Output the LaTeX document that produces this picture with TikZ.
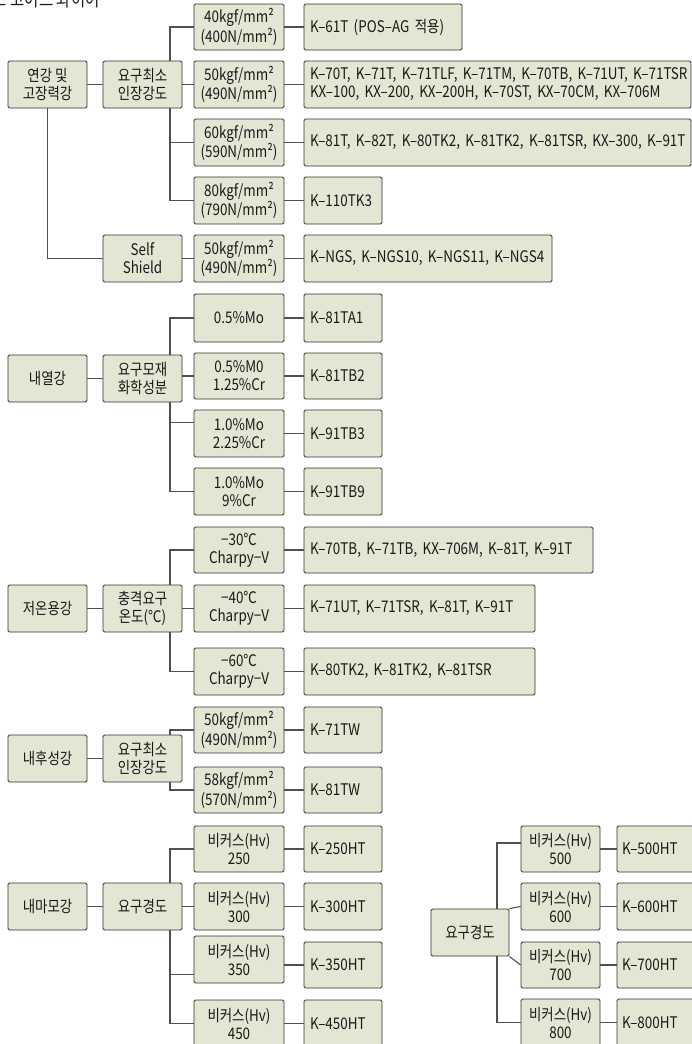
\documentclass[tikz,border=0pt]{standalone}
\usepackage{fontspec}
\setmainfont[FakeStretch=0.84]{Noto Sans CJK KR}
\definecolor{boxc}{RGB}{227,230,211}
\definecolor{bordc}{RGB}{50,50,50}
\definecolor{linec}{RGB}{80,80,80}
\definecolor{txtc}{RGB}{25,25,25}
\newcommand\fs{\fontsize{16}{18}\selectfont}
\tikzset{
  bx/.style={draw=bordc, fill=boxc, rounded corners=1.5pt, line width=0.8pt, inner sep=0pt, align=center, font=\fs, text=txtc},
  lt/.style={align=left, text width=#1pt},
  ln/.style={draw=linec, line width=1.1pt},
}
\newcommand\mkbox[7][]{\node[bx,minimum width={#5-#3},minimum height={#6-#4},#1] (#2) at ({(#3+#5)/2},{(#4+#6)/2}) {#7};}
\begin{document}
\begin{tikzpicture}[x=1pt,y=-1pt]
\useasboundingbox (0,0) rectangle (692,1044);
\coordinate (j1) at (170,0);
\coordinate (j2) at (497,0);
\node[anchor=base west, font=\fontsize{18.5}{18.5}\selectfont, text=txtc, inner sep=0pt] (title) at (-36,6) {플럭스 코어드 와이어};

% group 1
\mkbox{a1}{8}{61}{87}{108}{연강 및\\고장력강}
\mkbox{a2}{103}{61}{182}{108}{요구최소\\인장강도}
\mkbox{a3}{103}{235}{182}{282}{Self\\Shield}
\mkbox{b1}{194}{4}{284}{50}{40kgf/mm²\\(400N/mm²)}
\mkbox{b2}{194}{61}{284}{108}{50kgf/mm²\\(490N/mm²)}
\mkbox{b3}{194}{119}{284}{166}{60kgf/mm²\\(590N/mm²)}
\mkbox{b4}{194}{177}{284}{224}{80kgf/mm²\\(790N/mm²)}
\mkbox{b5}{194}{235}{284}{282}{50kgf/mm²\\(490N/mm²)}
\mkbox[lt=146]{c1}{304}{4}{462}{50}{\mbox{K–61T (POS–AG 적용)}}
\mkbox[lt=375]{c2}{304}{61}{691}{108}{\mbox{K–70T, K–71T, K–71TLF, K–71TM, K–70TB, K–71UT, K–71TSR}\\\mbox{KX–100, KX–200, KX–200H, K–70ST, KX–70CM, KX–706M}}
\mkbox[lt=375]{c3}{304}{119}{691}{166}{\mbox{K–81T, K–82T, K–80TK2, K–81TK2, K–81TSR, KX–300, K–91T}}
\mkbox[lt=66]{c4}{304}{177}{382}{224}{\mbox{K–110TK3}}
\mkbox[lt=236]{c5}{304}{235}{552}{282}{\mbox{K–NGS, K–NGS10, K–NGS11, K–NGS4}}
\draw[ln] (a1) -- (a2);
\draw[ln] (a2.north -| j1) |- (b1.west);
\draw[ln] (a2) -- (b2);
\draw[ln] (j1 |- b3.west) -- (b3.west);
\draw[ln] (a2.south -| j1) |- (b4.west);
\draw[ln] (a1.south) |- (a3.west);
\draw[ln] (a3) -- (b5);
\foreach \i in {1,...,5} {\draw[ln] (b\i) -- (c\i);}

% group 2
\mkbox{d1}{8}{355}{87}{402}{내열강}
\mkbox{d2}{103}{355}{182}{402}{요구모재\\화학성분}
\mkbox{e1}{194}{294}{284}{342}{0.5\%Mo}
\mkbox{e2}{194}{353}{284}{399}{0.5\%M0\\1.25\%Cr}
\mkbox{e3}{194}{410}{284}{457}{1.0\%Mo\\2.25\%Cr}
\mkbox{e4}{194}{468}{284}{515}{1.0\%Mo\\9\%Cr}
\mkbox[lt=66]{f1}{304}{294}{382}{342}{\mbox{K–81TA1}}
\mkbox[lt=66]{f2}{304}{353}{382}{399}{\mbox{K–81TB2}}
\mkbox[lt=66]{f3}{304}{410}{382}{457}{\mbox{K–91TB3}}
\mkbox[lt=66]{f4}{304}{468}{382}{515}{\mbox{K–91TB9}}
\draw[ln] (d1) -- (d2);
\draw[ln] (d2.north -| j1) |- (e1.west);
\draw[ln] (d2.east |- e2.west) -- (e2.west);
\draw[ln] ([yshift=11pt]e3.west -| j1) -- ([yshift=11pt]e3.west);
\draw[ln] (d2.south -| j1) |- (e4.west);
\foreach \i in {1,...,4} {\draw[ln] (e\i) -- (f\i);}

% group 3
\mkbox{g1}{8}{585}{87}{632}{저온용강}
\mkbox{g2}{103}{585}{182}{632}{충격요구\\온도(℃)}
\mkbox{h1}{194}{527}{284}{573}{−30℃\\Charpy−V}
\mkbox{h2}{194}{585}{284}{632}{−40℃\\Charpy−V}
\mkbox{h3}{194}{648}{284}{695}{−60℃\\Charpy−V}
\mkbox[lt=277]{i1}{304}{527}{593}{573}{\mbox{K–70TB, K–71TB, KX–706M, K–81T, K–91T}}
\mkbox[lt=219]{i2}{304}{585}{535}{632}{\mbox{K–71UT, K–71TSR, K–81T, K–91T}}
\mkbox[lt=219]{i3}{304}{648}{535}{695}{\mbox{K–80TK2, K–81TK2, K–81TSR}}
\draw[ln] (g1) -- (g2);
\draw[ln] (g2.north -| j1) |- (h1.west);
\draw[ln] (g2) -- (h2);
\draw[ln] (g2.south -| j1) |- (h3.west);
\foreach \i in {1,...,3} {\draw[ln] (h\i) -- (i\i);}

% group 4
\mkbox{k1}{8}{735}{87}{782}{내후성강}
\mkbox{k2}{103}{735}{182}{782}{요구최소\\인장강도}
\mkbox{l1}{194}{707}{284}{753}{50kgf/mm²\\(490N/mm²)}
\mkbox{l2}{194}{767}{284}{813}{58kgf/mm²\\(570N/mm²)}
\mkbox[lt=66]{m1}{304}{707}{382}{753}{\mbox{K–71TW}}
\mkbox[lt=66]{m2}{304}{767}{382}{813}{\mbox{K–81TW}}
\draw[ln] (k1) -- (k2);
\draw[ln] (k2.north -| j1) |- (l1.west);
\draw[ln] (k2.south -| j1) |- (l2.west);
\foreach \i in {1,2} {\draw[ln] (l\i) -- (m\i);}

% group 5
\mkbox{n1}{8}{883}{87}{930}{내마모강}
\mkbox{n2}{103}{883}{182}{930}{요구경도}
\mkbox{o1}{194}{826}{284}{872}{비커스(Hv)\\250}
\mkbox{o2}{194}{883}{284}{930}{비커스(Hv)\\300}
\mkbox{o3}{194}{936}{284}{983}{비커스(Hv)\\350}
\mkbox{o4}{194}{1000}{284}{1047}{비커스(Hv)\\450}
\mkbox[lt=66]{p1}{304}{826}{382}{872}{\mbox{K–250HT}}
\mkbox[lt=66]{p2}{304}{883}{382}{930}{\mbox{K–300HT}}
\mkbox[lt=66]{p3}{304}{942}{382}{988}{\mbox{K–350HT}}
\mkbox[lt=66]{p4}{304}{1000}{382}{1047}{\mbox{K–450HT}}
\draw[ln] (n1) -- (n2);
\draw[ln] (n2.north -| j1) |- (o1.west);
\draw[ln] (n2) -- (o2);
\draw[ln] ([yshift=-15pt]o3.west -| j1) -- ([yshift=-15pt]o3.west);
\draw[ln] (n2.south -| j1) |- (o4.west);
\draw[ln] (o1) -- (p1);
\draw[ln] (o2) -- (p2);
\draw[ln] (o3.east |- p3.west) -- (p3.west);
\draw[ln] (o4) -- (p4);

% group 6
\mkbox{q}{431}{909}{509}{956}{요구경도}
\mkbox{r1}{521}{826}{600}{872}{비커스(Hv)\\500}
\mkbox{r2}{521}{883}{600}{930}{비커스(Hv)\\600}
\mkbox{r3}{521}{942}{600}{988}{비커스(Hv)\\700}
\mkbox{r4}{521}{999}{600}{1046}{비커스(Hv)\\800}
\mkbox[lt=70]{s1}{617}{826}{697}{872}{\mbox{K–500HT}}
\mkbox[lt=70]{s2}{617}{883}{697}{930}{\mbox{K–600HT}}
\mkbox[lt=70]{s3}{617}{942}{697}{988}{\mbox{K–700HT}}
\mkbox[lt=70]{s4}{617}{999}{697}{1046}{\mbox{K–800HT}}
\draw[ln] (q.north -| j2) |- ([yshift=6pt]r1.west);
\draw[ln] (q.north east) -- (r2.west);
\draw[ln] (q.south east) -- (r3.west);
\draw[ln] (q.south -| j2) |- (r4.west);
\foreach \i in {1,...,4} {\draw[ln] (r\i) -- (s\i);}
\end{tikzpicture}
\end{document}
